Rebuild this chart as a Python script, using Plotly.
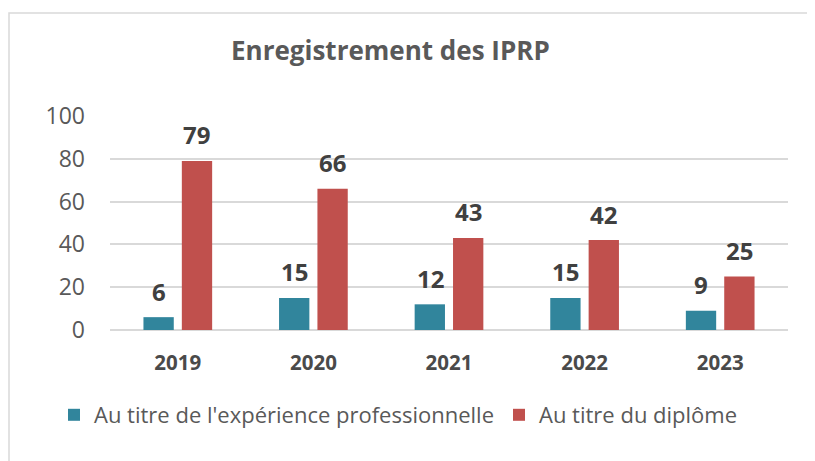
import plotly.graph_objects as go

years = ["2019", "2020", "2021", "2022", "2023"]
experience = [6, 15, 12, 15, 9]
diplome = [79, 66, 43, 42, 25]
name_exp = "Au titre de l'expérience professionnelle"
name_dip = "Au titre du diplôme"
title = "Enregistrement des IPRP"
y_ticks = [0, 20, 40, 60, 80, 100]

FONT = "Open Sans"
TEAL = "#31859C"
RED = "#C0504D"

fig = go.Figure()
fig.add_trace(go.Bar(x=years, y=experience, name=name_exp, marker_color=TEAL,
                     marker_line_width=0))
fig.add_trace(go.Bar(x=years, y=diplome, name=name_dip, marker_color=RED,
                     marker_line_width=0))

# page body has an 8px margin: figure sized to the visible area
W, H = 807, 453
ml, mr, mt, mb = 102, 27, 108, 131
pw = W - ml - mr
ph = H - mt - mb

ann = []
for i, y in enumerate(years):
    for val, dx in ((experience[i], -19), (diplome[i], 19)):
        ann.append(dict(x=i, y=val, xref="x", yref="y", text=f"<b>{val}</b>",
                        showarrow=False, xshift=dx, yshift=26, yanchor="middle",
                        font=dict(family=FONT, size=24, color="#404040")))

ann.append(dict(x=(382 - ml) / pw, y=1, xref="paper", yref="paper",
                yshift=mt - 42, text=f"<b>{title}</b>", showarrow=False,
                yanchor="middle", xanchor="center",
                font=dict(family=FONT, size=26, color="#595959")))

shapes = [dict(type="rect", xref="paper", yref="paper",
               x0=(1 - ml) / pw, x1=(W + 10 - ml) / pw,
               y0=-(H + 10 - mt - ph) / ph, y1=1 + (mt - 5) / ph,
               line=dict(color="#D9D9D9", width=1.5), fillcolor="rgba(0,0,0,0)",
               layer="below")]

fig.update_layout(
    width=W, height=H,
    margin=dict(l=ml, r=mr, t=mt, b=mb, autoexpand=False),
    paper_bgcolor="white", plot_bgcolor="white",
    barmode="group", bargap=0.434, bargroupgap=0.21,
    font=dict(family=FONT, color="#595959"),
    showlegend=True,
    legend=dict(orientation="h", x=(46 - ml) / pw, xanchor="left",
                y=-(407 - mt - ph) / ph, yanchor="middle",
                font=dict(family=FONT, size=22, color="#595959"),
                itemclick=False, traceorder="normal"),
    annotations=ann,
    shapes=shapes,
)
fig.update_xaxes(type="category", range=[-0.5, len(years) - 0.5], autorange=False,
                 showgrid=False, showline=False, zeroline=False,
                 tickfont=dict(family=FONT, size=20.5, color="#4a4a4a"),
                 ticks="", ticklabelstandoff=18,
                 tickmode="array", tickvals=years, ticktext=[f"<b>{y}</b>" for y in years])
fig.update_yaxes(range=[0, 100], autorange=False, tickvals=y_ticks, showgrid=True,
                 gridcolor="#D9D9D9", gridwidth=1.5, zeroline=True,
                 zerolinecolor="#D9D9D9", zerolinewidth=1.5, showline=False,
                 tickfont=dict(family=FONT, size=23, color="#595959"),
                 ticks="", ticklabelstandoff=24)

fig.write_html("out.html")
